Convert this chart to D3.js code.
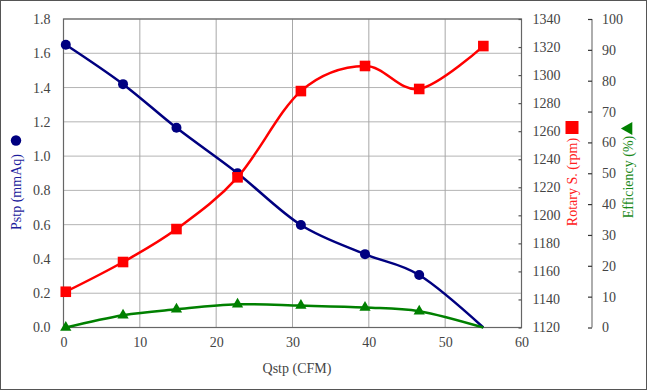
<!DOCTYPE html>
<html><head><meta charset="utf-8">
<script src="https://cdn.jsdelivr.net/npm/d3@7"></script>
<style>html,body{margin:0;padding:0;background:#fff}svg{display:block}</style>
</head><body>
<svg id="c" width="647" height="390"></svg>
<script>
const qstp = [0.3, 7.8, 14.8, 22.8, 31.1, 39.5, 46.6, 55.0];
const pstp = [1.65, 1.42, 1.165, 0.90, 0.598, 0.428, 0.306, 0.0];
const rpm = [1145.5, 1166.7, 1190.2, 1227.1, 1288.6, 1306.5, 1290.1, 1320.7];
const eff = [0.0, 4.0, 5.9, 7.5, 7.1, 6.5, 5.3, 0.0];
const xTicks = [0, 10, 20, 30, 40, 50, 60];
const pTicks = [0, 0.2, 0.4, 0.6, 0.8, 1.0, 1.2, 1.4, 1.6, 1.8];
const rTicks = [1120, 1140, 1160, 1180, 1200, 1220, 1240, 1260, 1280, 1300, 1320, 1340];
const eTicks = [0, 10, 20, 30, 40, 50, 60, 70, 80, 90, 100];

const svg = d3.select("#c");
const L = 63.5, R = 521.5, T = 19, B = 327.5;
const x = d3.scaleLinear().domain([0, 60]).range([L, R]);
const yP = d3.scaleLinear().domain([0, 1.8]).range([B, T]);
const yR = d3.scaleLinear().domain([1120, 1340]).range([B, T]);
const yE = d3.scaleLinear().domain([0, 100]).range([B, T]);
const font = "'Liberation Serif', 'Times New Roman', serif";
const txt = "#444";

svg.append("rect").attr("x", 0.5).attr("y", 0.5).attr("width", 646).attr("height", 389)
  .attr("fill", "#fff").attr("stroke", "#555").attr("stroke-width", 1);

// gridlines
const g = svg.append("g");
g.selectAll(".hg").data(pTicks.slice(1)).join("line")
  .attr("x1", L).attr("x2", R).attr("y1", d => yP(d)).attr("y2", d => yP(d))
  .attr("stroke", "#b4b4b4").attr("stroke-width", 1);
g.selectAll(".vg").data(xTicks.slice(1, -1)).join("line")
  .attr("x1", d => x(d)).attr("x2", d => x(d)).attr("y1", T).attr("y2", B)
  .attr("stroke", "#a8a8a8").attr("stroke-width", 1);

// plot frame
svg.append("rect").attr("x", L).attr("y", T).attr("width", R - L).attr("height", B - T)
  .attr("fill", "none").attr("stroke", "#666").attr("stroke-width", 1.2);

// left axis
const axL = d3.axisLeft(yP).tickValues(pTicks).tickFormat(d3.format(".1f")).tickSize(0).tickPadding(13);
const gL = svg.append("g").attr("transform", `translate(${L},0)`).call(axL);
// bottom axis
const axB = d3.axisBottom(x).tickValues(xTicks).tickFormat(d3.format("d")).tickSize(0).tickPadding(10);
const gB = svg.append("g").attr("transform", `translate(0,${B})`).call(axB);
// rpm axis (ticks inward on right frame)
const axR = d3.axisRight(yR).tickValues(rTicks).tickFormat(d3.format("d")).tickSize(-3).tickPadding(11);
const gR = svg.append("g").attr("transform", `translate(${R},0)`).call(axR);
// efficiency axis
const axE = d3.axisRight(yE).tickValues(eTicks).tickFormat(d3.format("d")).tickSize(-4).tickPadding(10);
const gE = svg.append("g").attr("transform", `translate(592,0)`).call(axE);

[gL, gB, gR, gE].forEach(a => {
  a.attr("font-family", null).attr("font-size", null);
  a.selectAll(".domain").attr("stroke", "none");
  a.selectAll("text").style("font-family", font).style("font-size", "14px").attr("fill", txt);
  a.selectAll(".tick line").attr("stroke", "#555").attr("stroke-width", 1.2);
});
gE.select(".domain").attr("stroke", "#777").attr("stroke-width", 1.2).attr("d", `M0,${T}V${B}`);
gE.selectAll(".tick line").attr("stroke", "#333");

// curves
const curve = d3.curveCatmullRom.alpha(0);
const idx = d3.range(qstp.length);
const lineP = d3.line().x(i => x(qstp[i])).y(i => yP(pstp[i])).curve(curve);
const lineR = d3.line().x(i => x(qstp[i])).y(i => yR(rpm[i])).curve(curve);
const lineE = d3.line().x(i => x(qstp[i])).y(i => yE(eff[i])).curve(curve);

svg.append("path").attr("d", lineP(idx)).attr("fill", "none").attr("stroke", "#000080").attr("stroke-width", 2.5);
svg.selectAll(".cp").data(idx.slice(0, -1)).join("circle")
  .attr("cx", i => x(qstp[i])).attr("cy", i => yP(pstp[i])).attr("r", 5).attr("fill", "#000080");

svg.append("path").attr("d", lineE(idx)).attr("fill", "none").attr("stroke", "#008000").attr("stroke-width", 2.5);
const tri = d3.symbol().type(d3.symbolTriangle).size(55);
svg.selectAll(".tp").data(idx.slice(0, -1)).join("path")
  .attr("d", tri).attr("transform", i => `translate(${x(qstp[i])},${yE(eff[i])})`).attr("fill", "#008000");

svg.append("path").attr("d", lineR(idx)).attr("fill", "none").attr("stroke", "#ff0000").attr("stroke-width", 2.5);
svg.selectAll(".sp").data(idx).join("rect")
  .attr("x", i => x(qstp[i]) - 5.3).attr("y", i => yR(rpm[i]) - 5.3).attr("width", 10.6).attr("height", 10.6).attr("fill", "#ff0000");

// axis titles
svg.append("text").attr("x", 297).attr("y", 373).attr("text-anchor", "middle")
  .style("font-family", font).style("font-size", "14px").attr("fill", txt).text("Qstp (CFM)");

svg.append("text").attr("transform", "translate(21,192) rotate(-90)").attr("text-anchor", "middle")
  .style("font-family", font).style("font-size", "14px").attr("fill", "#1c1c9c").text("Pstp (mmAq)");
svg.append("circle").attr("cx", 16).attr("cy", 140.5).attr("r", 5.2).attr("fill", "#000080");

svg.append("text").attr("transform", "translate(577,182) rotate(-90)").attr("text-anchor", "middle")
  .style("font-family", font).style("font-size", "14px").attr("fill", "#ff2020").text("Rotary S. (rpm)");
svg.append("rect").attr("x", 565.5).attr("y", 121).attr("width", 13).attr("height", 13).attr("fill", "#ff0000");

svg.append("text").attr("transform", "translate(633,177) rotate(-90)").attr("text-anchor", "middle")
  .style("font-family", font).style("font-size", "14px").attr("fill", "#1a8a1a").text("Efficiency (%)");
svg.append("path").attr("d", d3.symbol().type(d3.symbolTriangle).size(75))
  .attr("transform", "translate(628.5,128.5) rotate(-90)").attr("fill", "#008000");
</script>
</body></html>
